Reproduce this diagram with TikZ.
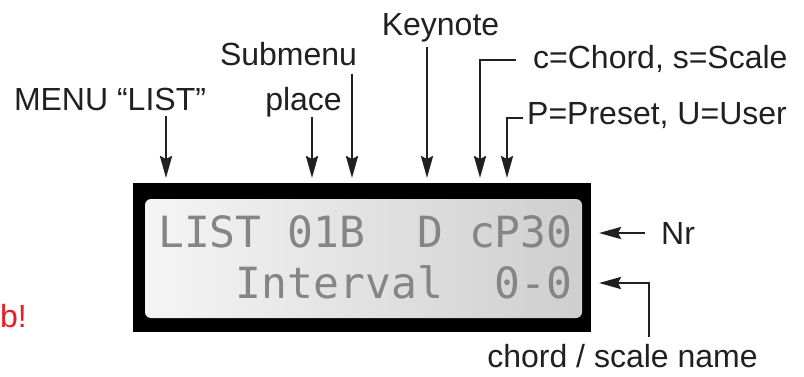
\documentclass[tikz,border=0pt]{standalone}
\usepackage{fontspec}
\setmainfont{Liberation Sans}
\newfontfamily\lcdfont{DejaVu Sans Mono}
\usetikzlibrary{arrows.meta}
\definecolor{ink}{RGB}{35,31,32}
\definecolor{warnred}{RGB}{237,28,36}
\begin{document}
\begin{tikzpicture}[x=1pt,y=-1pt,
  lbl/.style={font=\fontsize{32}{38}\selectfont, inner sep=0pt, text=ink},
  arr/.style={draw=ink, line width=2.7pt, -{Stealth[length=22pt,width=12pt,inset=3pt]}},
  lcd/.style={font=\lcdfont\fontsize{43}{50}\selectfont, inner sep=0pt, text=black!48, anchor=base west}]
\useasboundingbox (0,0) rectangle (804,376);
% LCD
\fill[black] (133,183) rectangle (591,332);
\shade[left color=black!4, right color=black!19, rounded corners=6pt] (145,199) rectangle (582,318);
\node[lcd] (r1a) at (158,247) {LIST 01B};
\node[lcd] (r1b) at (158+10*25.9,247) {D};
\node[lcd] (r1c) at (158+12*25.9,247) {cP30};
\node[lcd] (r2a) at (158+3*25.9,298) {Interval};
\node[lcd] (r2b) at (158+13*25.9,298) {0-0};
% labels
\node[lbl, anchor=base] (menu) at (110,110) {MENU “LIST”};
\node[lbl, anchor=base] (sub) at (288.5,65) {Submenu};
\node[lbl, anchor=base] (place) at (303.5,110) {place};
\node[lbl, anchor=base] (key) at (440.5,35) {Keynote};
\node[lbl, anchor=base west] (chord) at (533,68) {c=Chord, s=Scale};
\node[lbl, anchor=base west] (preset) at (527,124) {P=Preset, U=User};
\node[lbl, anchor=base west] (nr) at (661,244) {Nr};
\node[lbl, anchor=base] (name) at (622.5,367) {chord / scale name};
\node[lbl, anchor=base west, text=warnred] (warn) at (0,327) {b!};
% connector ends
\coordinate (tMenu) at (166,178);
\coordinate (tPlace) at (312,178);
\coordinate (tSub) at (352,178);
\coordinate (tKey) at (427,178);
\coordinate (tChord) at (480,178);
\coordinate (sChord) at (516,60);
\coordinate (tPreset) at (507,178);
\coordinate (sPreset) at (523,118);
\coordinate (sNr) at (645,233);
\coordinate (tNr) at (599,233);
\coordinate (sName) at (649,337);
\coordinate (tName) at (599,283);
% connectors
\draw[arr, shorten <=5pt] (menu.south -| tMenu) -- (tMenu);
\draw[arr] (place.south -| tPlace) -- (tPlace);
\draw[arr, shorten <=8pt] (sub.south -| tSub) -- (tSub);
\draw[arr, shorten <=5pt] (key.south -| tKey) -- (tKey);
\draw[arr] (sChord) -| (tChord);
\draw[arr] (sPreset) -| (tPreset);
\draw[arr] (sNr) -- (tNr);
\draw[arr] (sName) |- (tName);
\end{tikzpicture}
\end{document}
